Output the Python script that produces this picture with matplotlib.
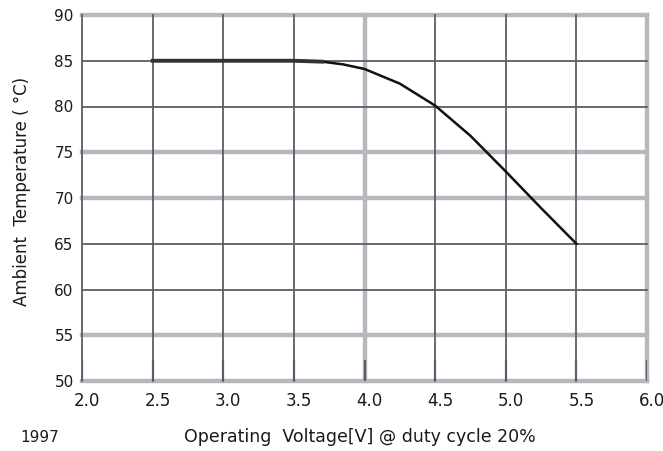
import matplotlib.pyplot as plt
import matplotlib.transforms as mtransforms

plt.rcParams['font.family'] = ['DejaVu Sans']

# curve
voltage = [2.5, 3.0, 3.5, 3.7, 3.85, 4.0, 4.25, 4.5, 4.75, 5.0, 5.25, 5.5]
temperature = [85.0, 85.0, 85.0, 84.9, 84.6, 84.1, 82.5, 80.1, 76.8, 72.9, 68.9, 65.0]

x_ticks = [2.0, 2.5, 3.0, 3.5, 4.0, 4.5, 5.0, 5.5, 6.0]
x_labels = ['2.0', '2.5', '3.0', '3.5', '4.0', '4.5', '5.0', '5.5', '6.0']
y_ticks = [50, 55, 60, 65, 70, 75, 80, 85, 90]

# which grid lines are the pale, thick kind
x_light = [4.0, 6.0]
y_light = [50, 55, 70, 75, 90]

dark = '#5a5f66'
light = '#b5b9be'
txt = '#1a1a1a'

fig = plt.figure(figsize=(6.63, 4.51), dpi=100)
ax = fig.add_axes([82/663, 1-381/451, (647-82)/663, (381-15)/451])

for y in y_ticks:
    if y in y_light:
        ax.axhline(y, color=light, lw=3.2, zorder=1, clip_on=False)
    else:
        ax.axhline(y, color=dark, lw=1.3, zorder=2, clip_on=False)
for x in x_ticks:
    if x in x_light:
        ax.axvline(x, color=light, lw=3.2, zorder=1, clip_on=False)
    else:
        ax.axvline(x, color=dark, lw=1.3, zorder=2, clip_on=False)
# short dark stubs at the foot of each vertical line
ax.vlines(x_ticks, 50, 52.3, color=dark, lw=1.6, zorder=3)

ax.plot(voltage, temperature, color='#111111', lw=1.8, zorder=4)
ax.plot(voltage[:4], temperature[:4], color='#333333', lw=2.8, zorder=4)

ax.set_xlim(2.0, 6.0)
ax.set_ylim(50, 90)
for s in ax.spines.values():
    s.set_visible(False)

ax.set_xticks(x_ticks)
ax.set_xticklabels(x_labels)
ax.set_yticks(y_ticks)
ax.tick_params(length=0, colors=txt)
ax.tick_params(axis='x', pad=8, labelsize=12)
ax.tick_params(axis='y', pad=6, labelsize=11)
for lab in ax.get_xticklabels():
    lab.set_transform(lab.get_transform() + mtransforms.ScaledTranslation(5/100, 0, fig.dpi_scale_trans))

fig.text(22/663, 1-191/451, 'Ambient  Temperature ( \u00b0C)', rotation=90,
         ha='center', va='center', fontsize=12, color=txt)
fig.text(360/663, 1-437/451, 'Operating  Voltage[V] @ duty cycle 20%',
         ha='center', va='center', fontsize=12.5, color=txt)
fig.text(40/663, 1-437/451, '1997', ha='center', va='center', fontsize=11, color=txt)

fig.savefig('out.png', dpi=100)
